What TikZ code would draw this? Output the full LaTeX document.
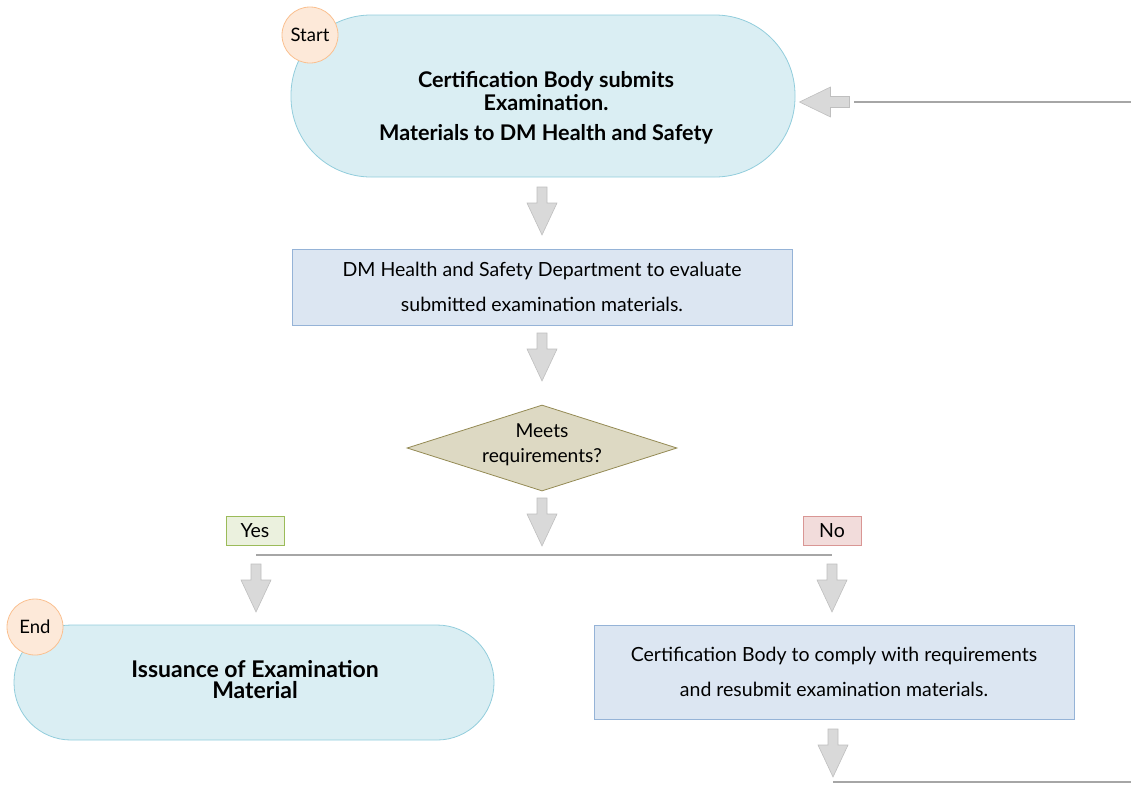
\documentclass[tikz,border=0pt]{standalone}
\usepackage{fontspec}
\setmainfont{Lato}
\usepackage{tikz}
\usetikzlibrary{shapes.geometric}
\definecolor{termfill}{HTML}{DAEEF3}
\definecolor{termline}{HTML}{92CDDC}
\definecolor{tagfill}{HTML}{FDE9D9}
\definecolor{tagline}{HTML}{FAC090}
\definecolor{stepfill}{HTML}{DCE6F2}
\definecolor{stepline}{HTML}{95B3D7}
\definecolor{askfill}{HTML}{DDD9C3}
\definecolor{askline}{HTML}{948A54}
\definecolor{yesfill}{HTML}{EBF1DE}
\definecolor{yesline}{HTML}{9BBB59}
\definecolor{nofill}{HTML}{F2DCDB}
\definecolor{noline}{HTML}{D99694}
\definecolor{arrfill}{HTML}{D9D9D9}
\definecolor{arrline}{HTML}{BFBFBF}
\definecolor{flowgray}{HTML}{A6A6A6}

\tikzset{
  terminal/.style={draw=termline, fill=termfill, line width=0.8pt, inner sep=0pt},
  tagcircle/.style={circle, draw=tagline, fill=tagfill, line width=0.8pt, inner sep=0pt, minimum size=56pt, font=\fontsize{18.5}{20}\selectfont},
  stepbox/.style={draw=stepline, fill=stepfill, line width=0.8pt, align=center, inner sep=0pt, font=\fontsize{19.5}{34.5}\selectfont},
  decision/.style={diamond, draw=askline, fill=askfill, line width=0.8pt, inner sep=0pt, minimum width=270pt, minimum height=86pt},
  answer/.style={line width=0.8pt, minimum width=58pt, minimum height=29pt, inner sep=0pt, font=\fontsize{19.5}{20}\selectfont},
  blockarrow/.style={draw=arrline, fill=arrfill, line width=0.6pt, line join=miter},
  flowline/.style={draw=flowgray, line width=2.4pt},
  blockdown/.pic={\path[blockarrow] (-5,-24) -- (5,-24) -- (5,-8) -- (15,-8) -- (0,24) -- (-15,-8) -- (-5,-8) -- cycle;},
  blockleft/.pic={\path[blockarrow] (25,-5.5) -- (25,5.5) -- (6,5.5) -- (6,15) -- (-25,0) -- (6,-15) -- (6,-5.5) -- cycle;}
}

\begin{document}
\begin{tikzpicture}[x=1pt, y=-1pt]
\useasboundingbox (0,0) rectangle (1131,785);
% start
\node[terminal, minimum width=504pt, minimum height=162pt, rounded corners=80pt] (start) at (543,96) {};
\node[align=center, font=\fontsize{21.6}{23}\selectfont\bfseries] (starttxt) at (546,108) {Certification Body submits\\Examination.\\[7pt]Materials to DM Health and Safety};
\node[tagcircle] (starttag) at (310,35) {Start};
% evaluate
\pic (a1) at (542,211) {blockdown};
\node[stepbox, minimum width=500pt, minimum height=76pt] (eval) at (542,287) {DM Health and Safety Department to evaluate\\submitted examination materials.};
\pic (a2) at (542,357) {blockdown};
% decision
\node[decision] (ask) at (542,448) {};
\node[align=center, font=\fontsize{19.2}{25}\selectfont] (asktxt) at (542,445) {Meets\\requirements?};
\pic (a3) at (542,522) {blockdown};
\node[answer, draw=yesline, fill=yesfill] (yes) at (255,530.5) {Yes};
\node[answer, draw=noline, fill=nofill] (no) at (832,530.5) {No};
\coordinate (split-l) at (256,555);
\coordinate (split-r) at (832,555);
\draw[flowline] (split-l) -- (split-r);
\pic (a4) at (256,588) {blockdown};
\pic (a5) at (832,588) {blockdown};
% end
\node[terminal, minimum width=480pt, minimum height=115pt, rounded corners=57pt] (finish) at (254,682.5) {};
\node[align=center, font=\fontsize{23}{21}\selectfont\bfseries] (finishtxt) at (255,680) {Issuance of Examination\\Material};
\node[tagcircle] (endtag) at (35,627) {End};
% resubmit
\node[stepbox, minimum width=480pt, minimum height=94pt] (redo) at (834,672) {Certification Body to comply with requirements\\and resubmit examination materials.};
\pic (a6) at (833,753) {blockdown};
\coordinate (loop-c) at (833,782);
\coordinate (loop-d) at (1131,782);
\draw[flowline] (loop-c) -- (loop-d);
% back to start
\coordinate (loop-a) at (854,102);
\coordinate (loop-b) at (1131,102);
\draw[flowline] (loop-a) -- (loop-b);
\pic (a7) at (824.5,102) {blockleft};
\end{tikzpicture}
\end{document}
